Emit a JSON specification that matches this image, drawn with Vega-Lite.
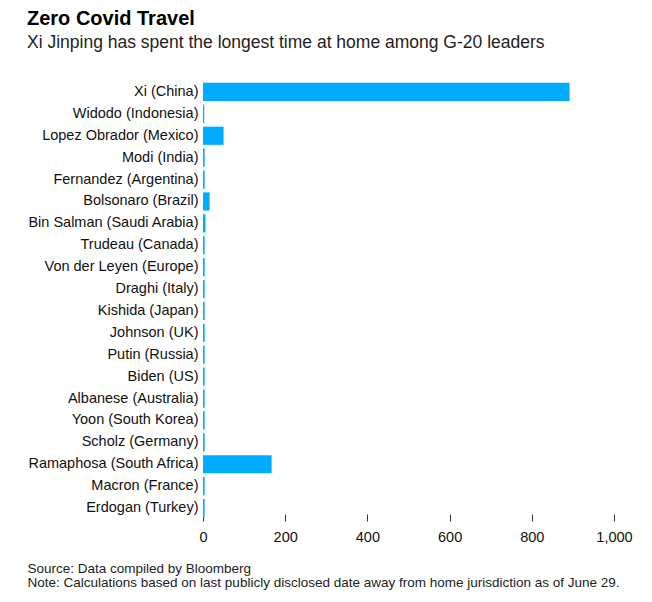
{
  "$schema": "https://vega.github.io/schema/vega-lite/v6.json",
  "width": 411,
  "height": 438,
  "autosize": {"type": "none"},
  "padding": {"left": 203, "top": 81, "right": 38, "bottom": 83},
  "background": "white",
  "title": {
    "text": "Zero Covid Travel",
    "subtitle": "Xi Jinping has spent the longest time at home among G-20 leaders",
    "anchor": "start",
    "frame": "group",
    "dx": -176,
    "offset": 30,
    "font": "Liberation Sans",
    "fontSize": 20,
    "fontWeight": "bold",
    "color": "#000000",
    "subtitleFont": "Liberation Sans",
    "subtitleFontSize": 17.5,
    "subtitleColor": "#222222",
    "subtitlePadding": 5
  },
  "data": {
    "values": [
      {"leader": "Xi (China)", "days": 892},
      {"leader": "Widodo (Indonesia)", "days": 3},
      {"leader": "Lopez Obrador (Mexico)", "days": 50},
      {"leader": "Modi (India)", "days": 4},
      {"leader": "Fernandez (Argentina)", "days": 4},
      {"leader": "Bolsonaro (Brazil)", "days": 16},
      {"leader": "Bin Salman (Saudi Arabia)", "days": 6},
      {"leader": "Trudeau (Canada)", "days": 4},
      {"leader": "Von der Leyen (Europe)", "days": 4},
      {"leader": "Draghi (Italy)", "days": 4},
      {"leader": "Kishida (Japan)", "days": 4},
      {"leader": "Johnson (UK)", "days": 4},
      {"leader": "Putin (Russia)", "days": 4},
      {"leader": "Biden (US)", "days": 4},
      {"leader": "Albanese (Australia)", "days": 4},
      {"leader": "Yoon (South Korea)", "days": 4},
      {"leader": "Scholz (Germany)", "days": 4},
      {"leader": "Ramaphosa (South Africa)", "days": 167},
      {"leader": "Macron (France)", "days": 4},
      {"leader": "Erdogan (Turkey)", "days": 4}
    ]
  },
  "mark": {"type": "bar", "color": "#00acff"},
  "encoding": {
    "y": {
      "field": "leader",
      "type": "nominal",
      "sort": null,
      "scale": {"paddingInner": 0.17, "paddingOuter": 0.085},
      "axis": {
        "title": null,
        "domain": false,
        "ticks": false,
        "labelPadding": 5,
        "labelFont": "Liberation Sans",
        "labelFontSize": 14.5,
        "labelColor": "#111111",
        "labelLimit": 300
      }
    },
    "x": {
      "field": "days",
      "type": "quantitative",
      "scale": {"domain": [0, 1000], "nice": false},
      "axis": {
        "values": [0, 200, 400, 600, 800, 1000],
        "format": ",d",
        "grid": false,
        "domain": false,
        "offset": -5,
        "tickSize": 7,
        "tickColor": "#333333",
        "labelPadding": 9,
        "labelFont": "Liberation Sans",
        "labelFontSize": 14.5,
        "labelColor": "#111111",
        "labelFlush": false,
        "title": ["Source: Data compiled by Bloomberg", "Note: Calculations based on last publicly disclosed date away from home jurisdiction as of June 29."],
        "titleFont": "Liberation Sans",
        "titleFontSize": 13.5,
        "titleFontWeight": "normal",
        "titleColor": "#222222",
        "titleAlign": "left",
        "titleAnchor": "start",
        "titleBaseline": "alphabetic",
        "titleX": -176,
        "titleY": 58,
        "titleLineHeight": 14
      }
    }
  },
  "config": {"view": {"stroke": null}}
}
